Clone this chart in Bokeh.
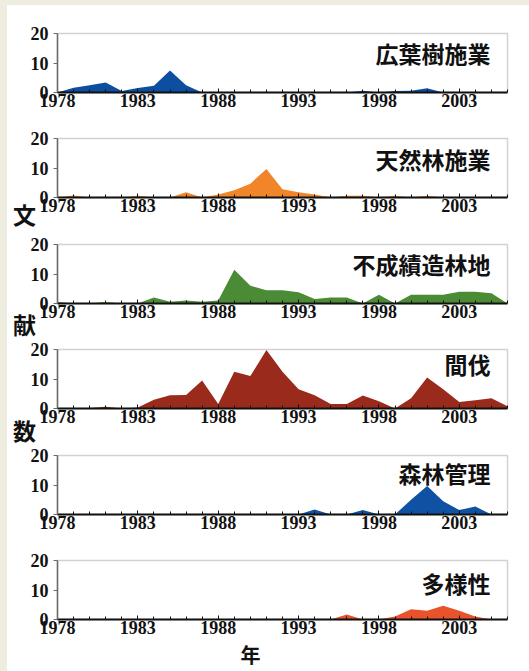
from bokeh.plotting import figure
from bokeh.layouts import column
from bokeh.models import Label, FixedTicker, BoxAnnotation
from bokeh.embed import file_html
from bokeh.resources import INLINE

years = list(range(1978, 2007))
x_label_years = [1978, 1983, 1988, 1993, 1998, 2003]
y_ticks = [0, 10, 20]

panel_names = ["広葉樹施業", "天然林施業", "不成績造林地", "間伐", "森林管理", "多様性"]

broadleaf = [0, 1.6, 2.5, 3.4, 0.5, 1.5, 2.3, 7.5, 2.5, 0, 0, 0, 0, 0, 0, 0, 0, 0, 0,
             0.6, 0, 0.5, 0.6, 1.4, 0, 0, 0, 0, 0]
natural = [0, 0.7, 0, 0, 0, 0.6, 0, 0, 1.8, 0, 1.0, 2.5, 4.7, 9.7, 2.8, 1.8, 1.0, 0, 0.6,
           0.6, 0, 0.6, 0, 0.6, 0, 0, 0, 0, 0]
failed = [0.5, 0, 0, 0.5, 0, 0, 2.0, 0.6, 1.0, 0.6, 1.0, 11.4, 6.0, 4.5, 4.5, 3.8, 1.5, 2.0,
          2.0, 0, 3.0, 0, 3.0, 3.0, 3.0, 4.0, 4.0, 3.5, 0]
thinning = [0, 0, 0.2, 0.6, 0, 0.3, 3.0, 4.5, 4.6, 9.5, 1.5, 12.5, 11.0, 19.8, 12.5, 6.5, 4.5,
            1.5, 1.5, 4.4, 2.5, 0, 3.5, 10.5, 6.5, 2.2, 2.8, 3.5, 0.8]
management = [0, 0, 0, 0, 0, 0, 0, 0, 0, 0, 0, 0, 0, 0, 0, 0, 1.7, 0, 0, 1.5, 0, 0, 5.0, 9.7,
              4.5, 1.5, 2.7, 0, 0]
diversity = [0, 0, 0, 0, 0, 0, 0, 0, 0, 0, 0, 0, 0, 0, 0, 0, 0, 0, 1.7, 0, 0, 1.0, 3.5, 3.0,
             4.7, 3.0, 1.0, 0, 0]

series = [broadleaf, natural, failed, thinning, management, diversity]
colors = ["#0c4fa1", "#f0852a", "#4b8b35", "#9a2a1c", "#0f51a3", "#e8532b"]

y_title_chars = ["文", "献", "数"]
y_title_panels = [1, 2, 3]
x_title = "年"

# ---- layout in page pixels (styling only) ----
PAGE_TOP = 5
FIG_LEFT = 7
FIG_W = 522
PLOT_L, PLOT_R = 57, 507          # page x of the 1978 / 2006 edges
PLOT_H = 59                        # pixel height of 0..20
panel_tops = [33, 138, 244, 349, 455, 560]
fig_edges = [5, 128, 234, 339, 445, 550, 671]
title_right_px = 490
title_center_px = [52, 158, 263, 363, 472, 582]
ychar_px = [(24, 213), (24, 323), (24, 429)]
xtitle_px = (250, 654)

X0, X1 = years[0], years[-1]
ppx = (PLOT_R - PLOT_L) / (X1 - X0)      # pixels per year
ppy = PLOT_H / 20.0                      # pixels per count

TICK_FONT = "Liberation Sans Narrow"
CJK = "Noto Sans CJK JP"


def px_to_x(px):
    return X0 + (px - PLOT_L) / ppx


def make_px_to_y(i):
    base = panel_tops[i] + PLOT_H
    return lambda py: (base - py) / ppy


def cjk_label(x, y, text, align="center", size="23px"):
    return Label(x=x, y=y, text=text, text_align=align, text_baseline="middle",
                 text_font=CJK, text_font_style="bold", text_font_size=size,
                 text_color="#111111")


figs = []
for i in range(6):
    top_px, bot_px = fig_edges[i], fig_edges[i + 1]
    to_y = make_px_to_y(i)
    p = figure(width=FIG_W, height=bot_px - top_px,
               x_range=(px_to_x(FIG_LEFT), px_to_x(FIG_LEFT + FIG_W)),
               y_range=(to_y(bot_px), to_y(top_px)),
               output_backend="svg", toolbar_location=None,
               min_border=0, min_border_left=0, min_border_right=0,
               min_border_top=0, min_border_bottom=0,
               margin=(PAGE_TOP if i == 0 else 0, 0, 0, FIG_LEFT),
               styles={"background-color": "white"})
    p.background_fill_color = "white"
    p.border_fill_color = "white"
    p.outline_line_color = None
    p.grid.visible = False

    p.add_layout(BoxAnnotation(left=X0, right=X1, bottom=0, top=20, fill_alpha=0,
                               line_color="#6a6a6a", line_width=1.5, level="underlay"))

    p.varea(x=years, y1=[0] * len(years), y2=series[i], fill_color=colors[i])

    xa = p.xaxis[0]
    xa.fixed_location = 0
    xa.bounds = (X0, X1)
    xa.ticker = FixedTicker(ticks=x_label_years, minor_ticks=years)
    xa.major_tick_in = 4
    xa.major_tick_out = 0
    xa.minor_tick_in = 3
    xa.minor_tick_out = 0
    xa.axis_line_color = "#111111"
    xa.axis_line_width = 2
    xa.major_tick_line_color = "#111111"
    xa.minor_tick_line_color = "#111111"
    xa.major_label_text_font = TICK_FONT
    xa.major_label_text_font_style = "bold"
    xa.major_label_text_font_size = "18px"
    xa.major_label_text_color = "#111111"
    xa.major_label_standoff = 1

    ya = p.yaxis[0]
    ya.fixed_location = X0
    ya.bounds = (0, 20)
    ya.ticker = FixedTicker(ticks=y_ticks)
    ya.major_tick_in = 0
    ya.major_tick_out = 4
    ya.minor_tick_line_color = None
    ya.axis_line_color = "#6a6a6a"
    ya.axis_line_width = 1.5
    ya.major_tick_line_color = "#6a6a6a"
    ya.major_label_text_font = TICK_FONT
    ya.major_label_text_font_style = "bold"
    ya.major_label_text_font_size = "18px"
    ya.major_label_text_color = "#111111"
    ya.major_label_standoff = 5

    p.add_layout(cjk_label(px_to_x(title_right_px), to_y(title_center_px[i]),
                           panel_names[i], align="right"))

    if i in y_title_panels:
        k = y_title_panels.index(i)
        cx, cy = ychar_px[k]
        p.add_layout(cjk_label(px_to_x(cx), to_y(cy), y_title_chars[k]))
    if i == 5:
        p.add_layout(cjk_label(px_to_x(xtitle_px[0]), to_y(xtitle_px[1]), x_title,
                               size="20px"))
    figs.append(p)

layout = column(*figs, spacing=0, styles={"background-color": "#eeeddf"})
open("out.html", "w").write(file_html(layout, INLINE))
